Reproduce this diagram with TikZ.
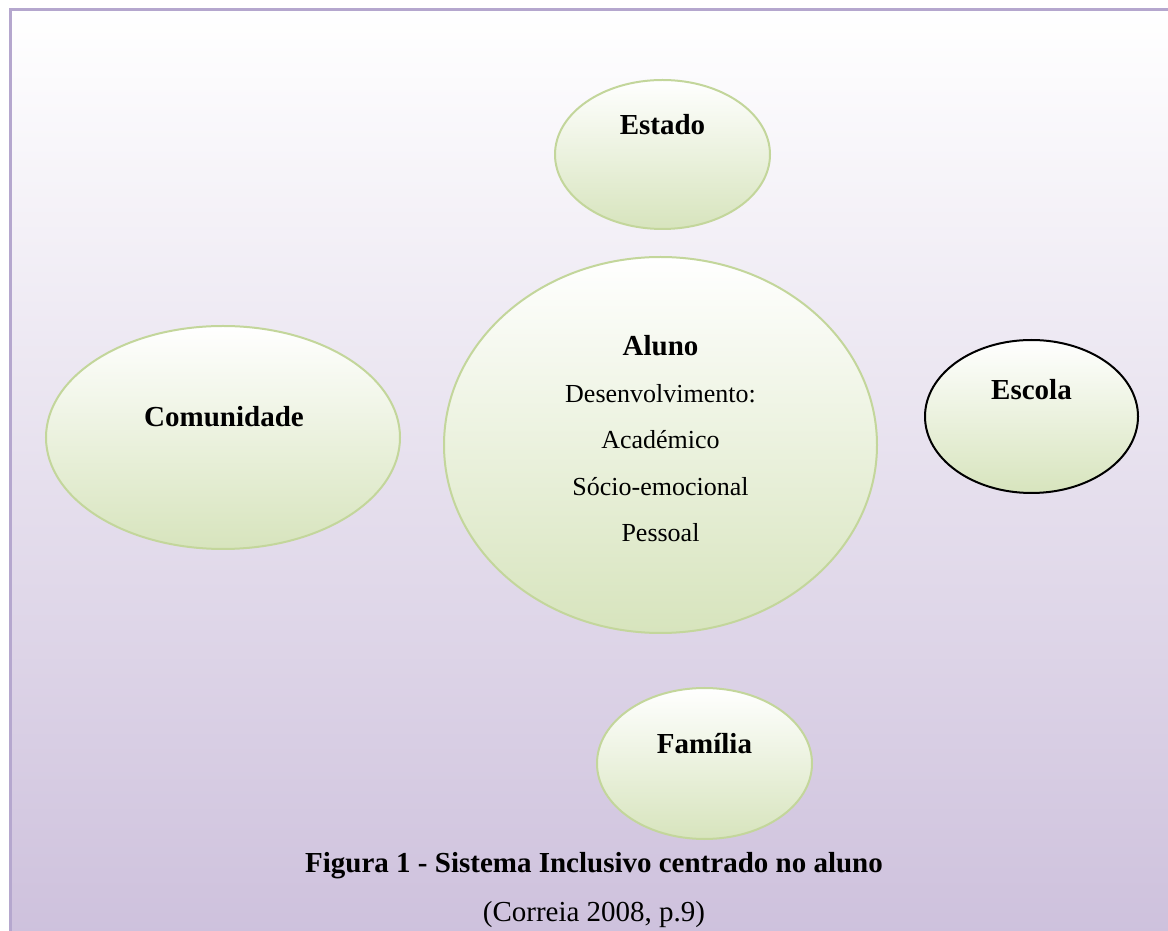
\documentclass[tikz,border=0pt]{standalone}
\usepackage{fontspec}
\setmainfont{Liberation Serif}
\usetikzlibrary{positioning,shapes.geometric}
\definecolor{lilac}{RGB}{181,167,206}
\definecolor{lilacbg}{RGB}{205,192,220}
\definecolor{leaf}{RGB}{195,214,155}
\definecolor{leaffill}{RGB}{215,228,189}
\tikzset{
  bubble/.style={ellipse, draw=leaf, line width=2pt, top color=white, bottom color=leaffill,
    inner sep=0pt},
  ttl/.style={font=\fontsize{29}{34}\selectfont\bfseries, anchor=base, inner sep=0pt},
  txt/.style={font=\fontsize{26}{30}\selectfont, anchor=base, inner sep=0pt},
  src/.style={font=\fontsize{29}{34}\selectfont, anchor=base, inner sep=0pt}
}

\begin{document}
\begin{tikzpicture}[x=1pt,y=1pt]
    \useasboundingbox (0,0) rectangle (1168,930);
    \clip (0,0) rectangle (1168,930);
    \fill[white] (0,0) rectangle (1168,930);
    % moldura com fundo
    \draw[lilac, line width=3pt, top color=white, bottom color=lilacbg] (10,920) rectangle (1190,-20);
    % elipses
    \node[bubble, minimum width=215pt, minimum height=149pt] (est) at (662.5,775.5) {};
    \node[bubble, minimum width=433pt, minimum height=376pt] (alu) at (660.5,485) {};
    \node[bubble, minimum width=354pt, minimum height=223pt] (com) at (223,492.5) {};
    \node[bubble, draw=black, minimum width=213pt, minimum height=153pt] (esc) at (1031.5,513.5) {};
    \node[bubble, minimum width=215pt, minimum height=151pt] (fam) at (704.5,166.5) {};
    % textos
    \node[ttl] (est-t) at ([yshift=19.5pt]est.center) {Estado};
    \node[ttl] (alu-t) at ([yshift=89pt]alu.center) {Aluno};
    \node[txt] (alu-d) at ([yshift=42pt]alu.center) {Desenvolvimento:};
    \node[txt] (alu-a) at ([yshift=-4pt]alu.center) {Académico};
    \node[txt] (alu-s) at ([yshift=-51pt]alu.center) {Sócio-emocional};
    \node[txt] (alu-p) at ([yshift=-97pt]alu.center) {Pessoal};
    \node[ttl] (com-t) at ([shift={(1pt,10.5pt)}]com.center) {Comunidade};
    \node[ttl] (esc-t) at ([yshift=16.5pt]esc.center) {Escola};
    \node[ttl] (fam-t) at ([yshift=9.5pt]fam.center) {Família};
    % legenda
    \node[ttl] (cap) at (594,58) {Figura 1 - Sistema Inclusivo centrado no aluno};
    \node[src] (ref) at (594,9) {(Correia 2008, p.9)};
\end{tikzpicture}
\end{document}
